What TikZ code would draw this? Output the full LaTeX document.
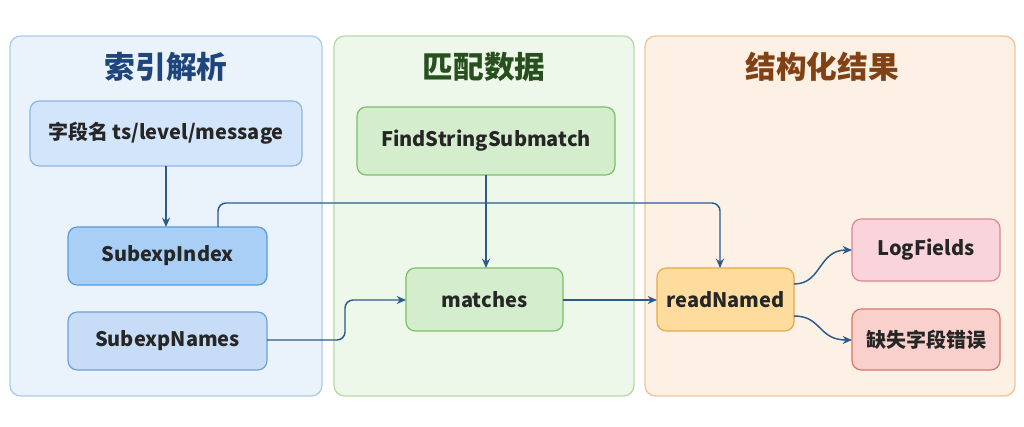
\documentclass[tikz,border=0pt]{standalone}
\usepackage{fontspec}
\setmainfont{Noto Sans CJK SC}
\usetikzlibrary{arrows.meta}
\definecolor{arr}{HTML}{2B5B8C}
\definecolor{pb}{HTML}{EAF3FC}\definecolor{pbd}{HTML}{A9CDEE}
\definecolor{pg}{HTML}{EDF7EA}\definecolor{pgd}{HTML}{B3DBA6}
\definecolor{po}{HTML}{FDF1E5}\definecolor{pod}{HTML}{F2C595}
\definecolor{b1}{HTML}{D3E5FA}\definecolor{b1d}{HTML}{8DB4E2}
\definecolor{b2}{HTML}{A9CFF6}\definecolor{b2d}{HTML}{5A9AD8}
\definecolor{b3}{HTML}{C6DCF7}\definecolor{b3d}{HTML}{6F9FDA}
\definecolor{g1}{HTML}{D4EDCC}\definecolor{g1d}{HTML}{7CBF69}
\definecolor{o1}{HTML}{FDDC9E}\definecolor{o1d}{HTML}{E9A84B}
\definecolor{r1}{HTML}{F9D4DA}\definecolor{r1d}{HTML}{D98695}
\definecolor{r2}{HTML}{F9D0CB}\definecolor{r2d}{HTML}{D9746A}
\begin{document}
\begin{tikzpicture}[x=0.75pt,y=-0.75pt,
 panel/.style={draw=#1,line width=1pt,rounded corners=8pt},
 box/.style={draw=#1,line width=0.9pt,rounded corners=7pt,font=\fontsize{15}{18}\selectfont\bfseries,text=black!85},
 ttl/.style={font=\fontsize{23}{27}\selectfont\bfseries},
 ar/.style={draw=arr,line width=1.1pt,-{Stealth[length=7pt,width=6pt]},rounded corners=6pt}]
\useasboundingbox (0,0) rectangle (1024,427);
\fill[white] (0,0) rectangle (1024,427);
\draw[panel=pbd,fill=pb] (10,36) rectangle (322,396);
\draw[panel=pgd,fill=pg] (334,36) rectangle (634,396);
\draw[panel=pod,fill=po] (645,36) rectangle (1015,396);
\node[ttl,text={rgb,255:red,30;green,70;blue,125}] (t1) at (166,67) {索引解析};
\node[ttl,text={rgb,255:red,40;green,80;blue,30}] (t2) at (484,67) {匹配数据};
\node[ttl,text={rgb,255:red,130;green,65;blue,20}] (t3) at (822,67) {结构化结果};
\path[box=b1d,fill=b1] (30,101) rectangle (302,166) node[midway] (f) {字段名 ts/level/message};
\path[box=b2d,fill=b2] (68,227) rectangle (267,285) node[midway] (si) {SubexpIndex};
\path[box=b3d,fill=b3] (68,312) rectangle (267,370) node[midway] (sn) {SubexpNames};
\path[box=g1d,fill=g1] (357,107) rectangle (615,175) node[midway] (fs) {FindStringSubmatch};
\path[box=g1d,fill=g1] (406,268) rectangle (563,331) node[midway] (m) {matches};
\path[box=o1d,fill=o1] (657,268) rectangle (794,331) node[midway] (r) {readNamed};
\path[box=r1d,fill=r1] (852,219) rectangle (1000,281) node[midway] (lf) {LogFields};
\path[box=r2d,fill=r2] (852,309) rectangle (1000,370) node[midway] (err) {缺失字段错误};
\coordinate (fb) at (166,166); \coordinate (sit) at (166,227);
\draw[ar] (fb) -- (sit);
\coordinate (a1) at (218,227); \coordinate (a2) at (720,268);
\draw[ar] (a1) |- (a2|-0,203) -- (a2);
\coordinate (fsb) at (486,175); \coordinate (mt) at (486,268);
\draw[ar] (fsb) -- (mt);
\coordinate (sr) at (267,340); \coordinate (ml) at (406,300);
\draw[ar] (sr) -- (345,340) -- (345,300) -- (ml);
\draw[ar] (563,300) -- (657,300);
\draw[ar] (794,284) .. controls (822,284) and (818,250) .. (852,250);
\draw[ar] (794,316) .. controls (822,316) and (818,340) .. (852,340);
\end{tikzpicture}
\end{document}
